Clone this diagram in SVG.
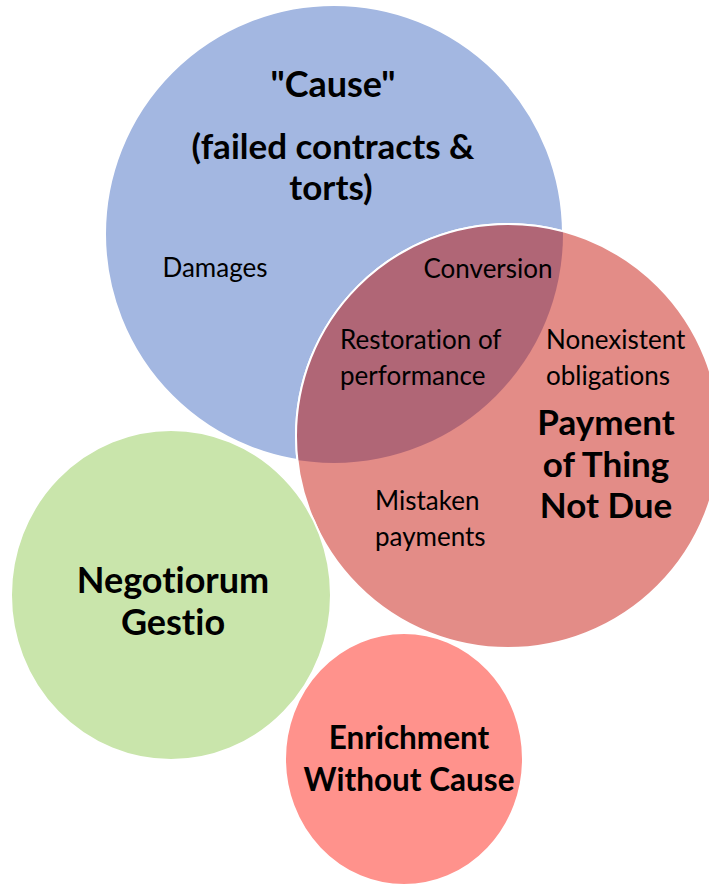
<svg xmlns="http://www.w3.org/2000/svg" width="709" height="888" viewBox="0 0 709 888">
<style>
.t{font-family:Lato,"Open Sans","Liberation Sans",sans-serif;fill:#000;font-variant-ligatures:none;}
.r{font-size:26px;font-weight:400;}
.b{font-size:36px;font-weight:700;}
.p{font-size:35px;}
.e{font-size:31.5px;}
.c{stroke:#fff;stroke-width:2;}
</style>
<defs>
<clipPath id="blueClip"><circle cx="334" cy="234" r="229"/></clipPath>
</defs>
<rect width="709" height="888" fill="#fff"/>
<g id="cause">
<circle class="c" cx="334" cy="234" r="229" fill="#A3B7E1"/>
</g>
<g id="payment">
<circle class="c" cx="508" cy="436" r="212" fill="#E38C87"/>
<circle cx="508" cy="436" r="212" fill="#B06676" clip-path="url(#blueClip)"/>
<circle cx="508" cy="436" r="212" fill="none" stroke="#fff" stroke-width="2" clip-path="url(#blueClip)"/>
</g>
<g id="negotiorum">
<ellipse class="c" cx="171" cy="595" rx="160" ry="165" fill="#C9E5AB"/>
</g>
<g id="enrichment">
<ellipse class="c" cx="404" cy="759" rx="119" ry="126" fill="#FF928C"/>
</g>
<g id="connectors"></g>
<g id="labels">
<text class="t b" x="333" y="97" text-anchor="middle">"Cause"</text>
<text class="t b p" x="333" y="159" text-anchor="middle">(failed contracts &amp;</text>
<text class="t b p" x="331" y="200" text-anchor="middle">torts)</text>
<text class="t r" x="215" y="277" text-anchor="middle">Damages</text>
<text class="t r" x="488" y="278" text-anchor="middle">Conversion</text>
<text class="t r" x="340" y="349">Restoration of</text>
<text class="t r" x="340" y="385">performance</text>
<text class="t r" x="546" y="349">Nonexistent</text>
<text class="t r" x="546" y="385">obligations</text>
<text class="t b p" x="606" y="435" text-anchor="middle">Payment</text>
<text class="t b p" x="606" y="477" text-anchor="middle">of Thing</text>
<text class="t b p" x="606" y="518" text-anchor="middle">Not Due</text>
<text class="t r" x="375" y="510">Mistaken</text>
<text class="t r" x="375" y="546">payments</text>
<text class="t b" x="173" y="593" text-anchor="middle">Negotiorum</text>
<text class="t b" x="173" y="635" text-anchor="middle">Gestio</text>
<text class="t b e" x="409" y="749" text-anchor="middle">Enrichment</text>
<text class="t b e" x="409" y="791" text-anchor="middle">Without Cause</text>
</g>
</svg>
